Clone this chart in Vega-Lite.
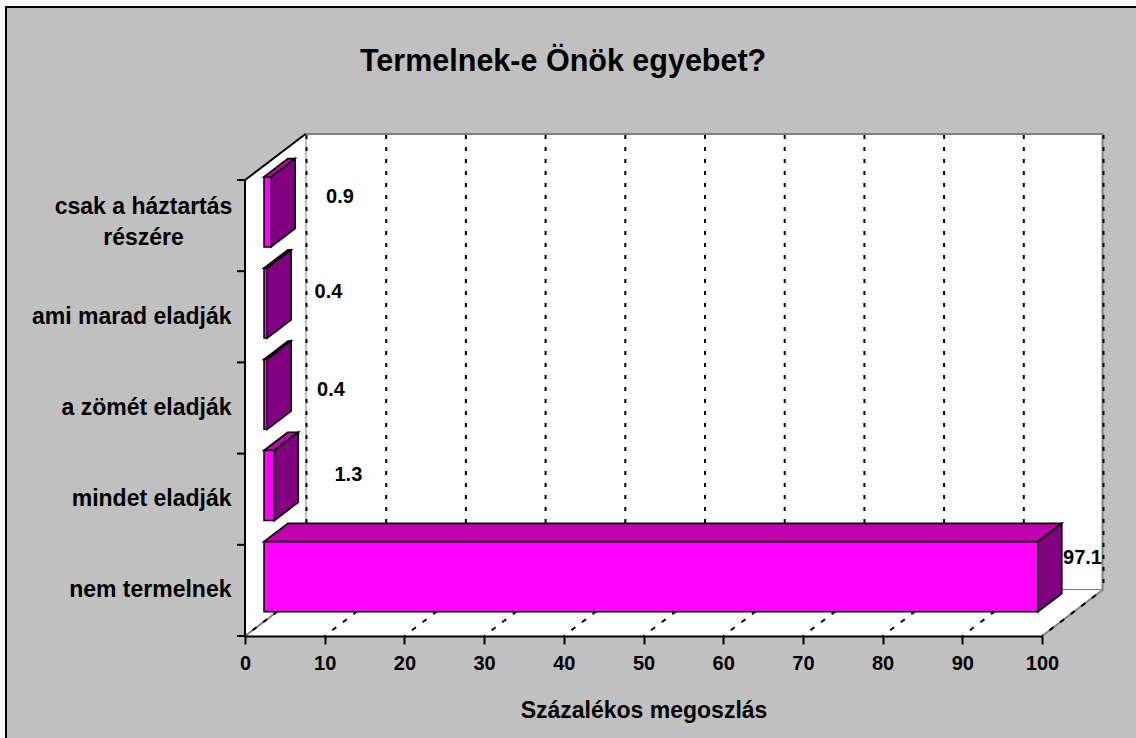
{"$schema":"https://vega.github.io/schema/vega-lite/v6.json","width":858,"height":502,"autosize":{"type":"none"},"padding":{"left":245,"top":134,"right":33,"bottom":102},"background":"white","view":{"stroke":null},"config":{"font":"Liberation Sans","axisX":{"titleFont":"Liberation Sans","titleFontSize":23,"titleFontWeight":"bold","titleColor":"black","titlePadding":26,"labelFont":"Liberation Sans","labelFontSize":20,"labelFontWeight":"bold","labelColor":"black","labelPadding":9,"labelFlush":false,"labelOverlap":false,"domainColor":"black","domainWidth":2,"tickColor":"black","tickWidth":2,"tickSize":8,"grid":false}},
"title":{"text":"Termelnek-e Önök egyebet?","anchor":"start","frame":"group","dx":115,"offset":-71,"fontSize":30.5,"fontWeight":"bold","font":"Liberation Sans","color":"black","zindex":1},
"datasets":{
"bars":[{"category":"csak a háztartás részére","value":0.9},{"category":"ami marad eladják","value":0.4},{"category":"a zömét eladják","value":0.4},{"category":"mindet eladják","value":1.3},{"category":"nem termelnek","value":97.1}],
"ticks":[{"tick":0},{"tick":10},{"tick":20},{"tick":30},{"tick":40},{"tick":50},{"tick":60},{"tick":70},{"tick":80},{"tick":90},{"tick":100}],
"ends":[{"tick":0},{"tick":100}],
"levels":[{"level":0},{"level":1},{"level":2},{"level":3},{"level":4},{"level":5}],
"leftWall":[{"x":0,"low":0,"high":5},{"x":7.59,"low":0.504,"high":5.504}],
"floor":[{"level":0,"from":0,"to":100},{"level":0.504,"from":7.59,"to":107.59}],
"topFaces":[{"bar":"nem termelnek","level":1.034,"from":2.38,"to":99.48},{"bar":"nem termelnek","level":1.234,"from":5.38,"to":102.48},{"bar":"mindet eladják","level":2.034,"from":2.38,"to":3.68},{"bar":"mindet eladják","level":2.234,"from":5.38,"to":6.68},{"bar":"a zömét eladják","level":3.034,"from":2.38,"to":2.78},{"bar":"a zömét eladják","level":3.234,"from":5.38,"to":5.78},{"bar":"ami marad eladják","level":4.034,"from":2.38,"to":2.78},{"bar":"ami marad eladják","level":4.234,"from":5.38,"to":5.78},{"bar":"csak a háztartás részére","level":5.034,"from":2.38,"to":3.28},{"bar":"csak a háztartás részére","level":5.234,"from":5.38,"to":6.28}],
"sideFaces":[{"bar":"nem termelnek","x":99.48,"low":0.266,"high":1.034},{"bar":"nem termelnek","x":102.48,"low":0.466,"high":1.234},{"bar":"mindet eladják","x":3.68,"low":1.266,"high":2.034},{"bar":"mindet eladják","x":6.68,"low":1.466,"high":2.234},{"bar":"a zömét eladják","x":2.78,"low":2.266,"high":3.034},{"bar":"a zömét eladják","x":5.78,"low":2.466,"high":3.234},{"bar":"ami marad eladják","x":2.78,"low":3.266,"high":4.034},{"bar":"ami marad eladják","x":5.78,"low":3.466,"high":4.234},{"bar":"csak a háztartás részére","x":3.28,"low":4.266,"high":5.034},{"bar":"csak a háztartás részére","x":6.28,"low":4.466,"high":5.234}]
},
"resolve":{"scale":{"y":"independent"}},
"layer":[
{"layer":[
{"data":{"values":[{"frame":"chart"}]},"mark":{"type":"rect","fill":"#C0C0C0","stroke":"black","strokeWidth":2,"xOffset":-239,"x2Offset":110,"yOffset":110,"y2Offset":-173,"clip":false},"encoding":{"x":{"datum":0,"type":"quantitative","title":"Százalékos megoszlás","axis":{"values":[0,10,20,30,40,50,60,70,80,90,100],"zindex":1},"scale":{"domain":[0,100],"range":[0,797],"nice":false,"zero":false}},"x2":{"datum":100},"y":{"datum":0,"type":"quantitative","scale":{"domain":[0,5],"range":[502,46],"nice":false,"zero":false},"axis":null},"y2":{"datum":5}}},
{"data":{"values":[{"frame":"back wall"}]},"mark":{"type":"rect","fill":"white","stroke":"#808080","strokeWidth":2,"xOffset":60.5,"x2Offset":60.5,"yOffset":-46,"y2Offset":-46},"encoding":{"x":{"datum":0,"type":"quantitative","title":"Százalékos megoszlás","scale":{"domain":[0,100],"range":[0,797],"nice":false,"zero":false}},"x2":{"datum":100},"y":{"datum":0,"type":"quantitative","scale":{"domain":[0,5],"range":[502,46],"nice":false,"zero":false},"axis":null},"y2":{"datum":5}}},
{"data":{"name":"leftWall"},"mark":{"type":"area","orient":"vertical","fill":"white"},"encoding":{"x":{"field":"x","type":"quantitative","title":"Százalékos megoszlás","scale":{"domain":[0,100],"range":[0,797],"nice":false,"zero":false}},"y":{"field":"low","type":"quantitative","scale":{"domain":[0,5],"range":[502,46],"nice":false,"zero":false},"axis":null},"y2":{"field":"high"}}},
{"data":{"name":"floor"},"mark":{"type":"area","orient":"horizontal","fill":"white"},"encoding":{"y":{"field":"level","type":"quantitative","scale":{"domain":[0,5],"range":[502,46],"nice":false,"zero":false},"axis":null},"x":{"field":"from","type":"quantitative","title":"Százalékos megoszlás","scale":{"domain":[0,100],"range":[0,797],"nice":false,"zero":false}},"x2":{"field":"to"}}},
{"data":{"name":"ends"},"mark":{"type":"rule","color":"#808080","strokeWidth":2,"x2Offset":60.5,"y2Offset":-46},"encoding":{"x":{"field":"tick","type":"quantitative","title":"Százalékos megoszlás","scale":{"domain":[0,100],"range":[0,797],"nice":false,"zero":false}},"x2":{"field":"tick"},"y":{"datum":0,"type":"quantitative","scale":{"domain":[0,5],"range":[502,46],"nice":false,"zero":false},"axis":null},"y2":{"datum":0}}},
{"data":{"name":"ticks"},"mark":{"type":"rule","color":"black","strokeWidth":2,"strokeDash":[5,8.3],"strokeDashOffset":3.8,"x2Offset":60.5,"y2Offset":-46},"encoding":{"x":{"field":"tick","type":"quantitative","title":"Százalékos megoszlás","scale":{"domain":[0,100],"range":[0,797],"nice":false,"zero":false}},"x2":{"field":"tick"},"y":{"datum":0,"type":"quantitative","scale":{"domain":[0,5],"range":[502,46],"nice":false,"zero":false},"axis":null},"y2":{"datum":0}}},
{"data":{"name":"ticks"},"mark":{"type":"rule","color":"black","strokeWidth":2,"strokeDash":[4,8],"strokeDashOffset":5,"xOffset":61.5,"yOffset":-46,"y2Offset":-46},"encoding":{"x":{"field":"tick","type":"quantitative","title":"Százalékos megoszlás","scale":{"domain":[0,100],"range":[0,797],"nice":false,"zero":false}},"y":{"datum":0,"type":"quantitative","scale":{"domain":[0,5],"range":[502,46],"nice":false,"zero":false},"axis":null},"y2":{"datum":5}}},
{"data":{"values":[{"edge":"wall top"}]},"mark":{"type":"rule","color":"black","strokeWidth":2,"x2Offset":60.5,"y2Offset":-46},"encoding":{"x":{"datum":0,"type":"quantitative","title":"Százalékos megoszlás","scale":{"domain":[0,100],"range":[0,797],"nice":false,"zero":false}},"x2":{"datum":0},"y":{"datum":5,"type":"quantitative","scale":{"domain":[0,5],"range":[502,46],"nice":false,"zero":false},"axis":null},"y2":{"datum":5}}},
{"data":{"values":[{"edge":"value axis line"}]},"mark":{"type":"rule","color":"black","strokeWidth":2},"encoding":{"x":{"datum":0,"type":"quantitative","title":"Százalékos megoszlás","scale":{"domain":[0,100],"range":[0,797],"nice":false,"zero":false}},"y":{"datum":0,"type":"quantitative","scale":{"domain":[0,5],"range":[502,46],"nice":false,"zero":false},"axis":null},"y2":{"datum":5}}},
{"data":{"name":"levels"},"mark":{"type":"rule","color":"black","strokeWidth":2,"x2Offset":-8},"encoding":{"x":{"datum":0,"type":"quantitative","title":"Százalékos megoszlás","scale":{"domain":[0,100],"range":[0,797],"nice":false,"zero":false}},"x2":{"datum":0},"y":{"field":"level","type":"quantitative","scale":{"domain":[0,5],"range":[502,46],"nice":false,"zero":false},"axis":null}}},
{"data":{"name":"topFaces"},"mark":{"type":"area","orient":"horizontal","fill":"#BF00AC","stroke":"black","strokeWidth":1.7},"encoding":{"detail":{"field":"bar"},"y":{"field":"level","type":"quantitative","scale":{"domain":[0,5],"range":[502,46],"nice":false,"zero":false},"axis":null},"x":{"field":"from","type":"quantitative","title":"Százalékos megoszlás","scale":{"domain":[0,100],"range":[0,797],"nice":false,"zero":false}},"x2":{"field":"to"}}},
{"data":{"name":"sideFaces"},"mark":{"type":"area","orient":"vertical","fill":"#800080","stroke":"black","strokeWidth":1.7},"encoding":{"detail":{"field":"bar"},"x":{"field":"x","type":"quantitative","title":"Százalékos megoszlás","scale":{"domain":[0,100],"range":[0,797],"nice":false,"zero":false}},"y":{"field":"low","type":"quantitative","scale":{"domain":[0,5],"range":[502,46],"nice":false,"zero":false},"axis":null},"y2":{"field":"high"}}}
]},
{"data":{"name":"bars"},"encoding":{"y":{"field":"category","type":"nominal","sort":null,"scale":{"domain":["csak a háztartás részére","ami marad eladják","a zömét eladják","mindet eladják","nem termelnek"],"range":[46,502],"paddingInner":0.233,"paddingOuter":0.1165},"axis":{"title":null,"domain":false,"ticks":false,"labelExpr":"datum.label == 'csak a háztartás részére' ? ['csak a háztartás','részére'] : datum.label","labelAlign":{"condition":{"test":"datum.value === 'csak a háztartás részére'","value":"center"},"value":"right"},"labelPadding":{"condition":{"test":"datum.value === 'csak a háztartás részére'","value":102},"value":14},"labelOffset":{"condition":{"test":"datum.value === 'csak a háztartás részére'","value":-19},"value":0},"labelFont":"Liberation Sans","labelFontSize":23,"labelFontWeight":"bold","labelColor":"black","labelLineHeight":31,"labelAngle":0,"labelLimit":300,"grid":false,"zindex":1}},"x":{"field":"value","type":"quantitative","title":"Százalékos megoszlás","scale":{"domain":[0,100],"range":[0,797],"nice":false,"zero":false}}},
"layer":[
{"mark":{"type":"bar","fill":"#FF00FF","stroke":"black","strokeWidth":1.5,"xOffset":19,"x2Offset":19,"yOffset":-13.7,"y2Offset":-13.7},"encoding":{"x2":{"datum":0}}},
{"transform":[{"filter":{"field":"category","equal":"csak a háztartás részére"}}],"mark":{"type":"text","font":"Liberation Sans","fontSize":20,"fontWeight":"bold","color":"black","xOffset":87.8,"yOffset":-28.6},"encoding":{"text":{"field":"value","type":"nominal"}}},
{"transform":[{"filter":{"field":"category","equal":"ami marad eladják"}}],"mark":{"type":"text","font":"Liberation Sans","fontSize":20,"fontWeight":"bold","color":"black","xOffset":80.3,"yOffset":-25},"encoding":{"text":{"field":"value","type":"nominal"}}},
{"transform":[{"filter":{"field":"category","equal":"a zömét eladják"}}],"mark":{"type":"text","font":"Liberation Sans","fontSize":20,"fontWeight":"bold","color":"black","xOffset":82.8,"yOffset":-18},"encoding":{"text":{"field":"value","type":"nominal"}}},
{"transform":[{"filter":{"field":"category","equal":"mindet eladják"}}],"mark":{"type":"text","font":"Liberation Sans","fontSize":20,"fontWeight":"bold","color":"black","xOffset":93,"yOffset":-24},"encoding":{"text":{"field":"value","type":"nominal"}}},
{"transform":[{"filter":{"field":"category","equal":"nem termelnek"}}],"mark":{"type":"text","font":"Liberation Sans","fontSize":20,"fontWeight":"bold","color":"black","xOffset":63.6,"yOffset":-32.4},"encoding":{"text":{"field":"value","type":"nominal"}}}
]}
]}
